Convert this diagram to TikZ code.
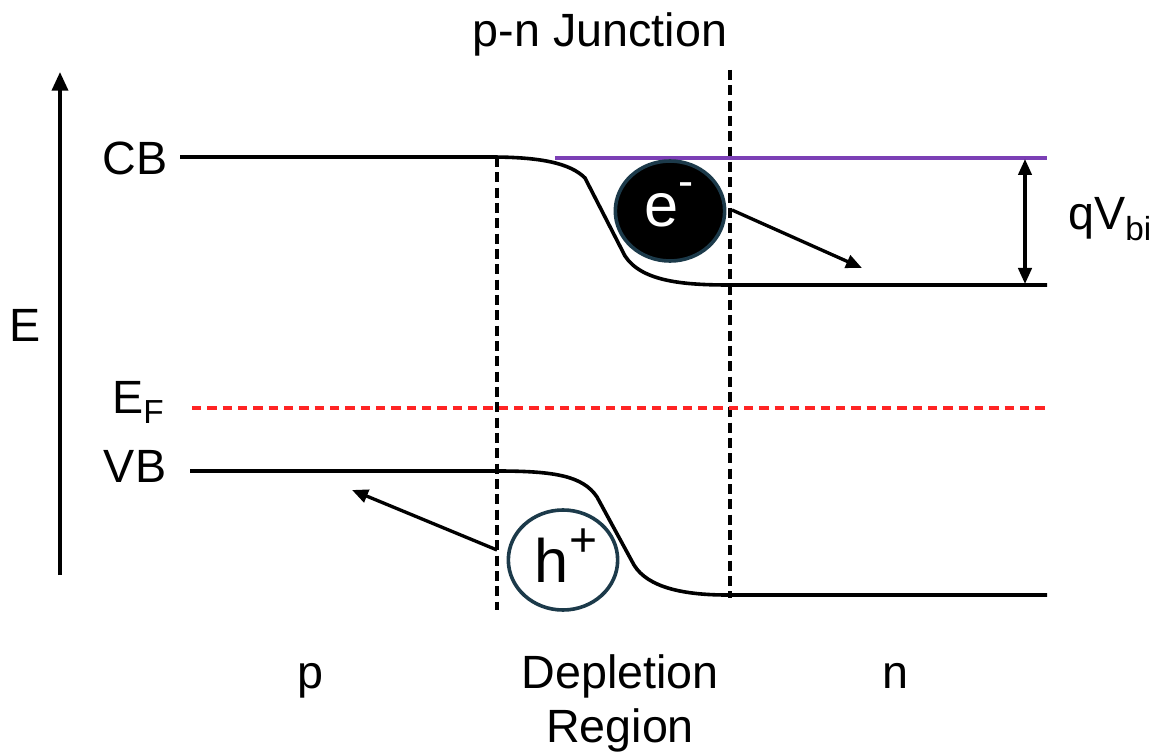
\documentclass[tikz,border=0pt]{standalone}
\usepackage{fontspec}
\setmainfont{Liberation Sans}
\usetikzlibrary{arrows.meta,shapes.geometric}
\definecolor{bandpurple}{HTML}{7B3FB5}
\definecolor{circedge}{HTML}{1C3A4A}
\definecolor{fermired}{HTML}{FF2424}
\begin{document}
\begin{tikzpicture}[x=0.75pt,y=-0.75pt,
  lbl/.style={font=\fontsize{35}{40.5}\selectfont, inner sep=0pt, anchor=base},
  big/.style={font=\fontsize{46}{50}\selectfont, inner sep=0pt, anchor=base},
  band/.style={line width=2.7pt},
  divider/.style={line width=2.4pt, dash pattern=on 7.5pt off 4pt},
  fermi/.style={line width=2.6pt, fermired, dash pattern=on 7pt off 4.5pt},
  arr/.style={line width=2.5pt, -{Triangle[length=12pt,width=10pt]}},
  carrier/.style={ellipse, minimum width=82pt, minimum height=75pt, inner sep=0pt, line width=2.7pt, draw=circedge}
]
\useasboundingbox (0,0) rectangle (1160,755);
% labels
\node[lbl] (title) at (600,47) {p-n Junction};
\node[lbl] (Elbl) at (25,342) {E};
\node[lbl] (CB) at (135,175) {CB};
\node[lbl] (EF) at (138,413) {E\raisebox{-0.22em}{\fontsize{25}{25}\selectfont F}};
\node[lbl] (VB) at (135,482) {VB};
\node[lbl] (plbl) at (310,688) {p};
\node[lbl] (dep) at (620,688) {Depletion};
\node[lbl] (reg) at (620,742) {Region};
\node[lbl] (nlbl) at (895,688) {n};
\node[lbl, anchor=base west] (qv) at (1068,230) {qV\raisebox{-0.22em}{\fontsize{25}{25}\selectfont bi}};
% energy axis
\coordinate (ax0) at (60,575);
\coordinate (ax1) at (60,72);
\draw[line width=2.7pt, -{Triangle[length=14pt,width=12pt]}] (ax0) -- (ax1);
% dividers
\coordinate (dl0) at (497,157);
\coordinate (dl1) at (497,610);
\coordinate (dr0) at (730,70);
\coordinate (dr1) at (730,598);
\draw[divider] (dl0) -- (dl1);
\draw[divider] (dr0) -- (dr1);
% conduction band
\coordinate (cb0) at (180,157);
\coordinate (cb1) at (730,285);
\coordinate (cb2) at (1047,285);
\draw[band] (cb0) -- (490,157) .. controls (540,157) and (570,163) .. (585,178)
  -- (625,256) .. controls (642,282) and (685,285) .. (cb1) -- (cb2);
% purple reference
\coordinate (pu0) at (555,158);
\coordinate (pu1) at (1047,158);
\draw[line width=2.7pt, bandpurple] (pu0) -- (pu1);
% valence band
\coordinate (vb0) at (190,471);
\coordinate (vb1) at (727,595);
\coordinate (vb2) at (1047,595);
\draw[band] (vb0) -- (497,471) .. controls (555,471) and (583,476) .. (597,497)
  -- (634,565) .. controls (648,588) and (685,595) .. (vb1) -- (vb2);
% Fermi level
\coordinate (ef0) at (192,408);
\coordinate (ef1) at (1047,408);
\draw[fermi] (ef0) -- (ef1);
% qVbi
\coordinate (q0) at (1025,159);
\coordinate (q1) at (1025,284);
\draw[line width=2.5pt, {Triangle[length=12pt,width=10pt]}-{Triangle[length=12pt,width=10pt]}] (q0) -- (q1);
% electron
\node[carrier, fill=black] (eC) at (670,211) {};
\node[big, text=white] (etxt) at (669,227) {e\raisebox{0.5em}{\fontsize{34}{34}\selectfont -}};
\coordinate (ea0) at (732,210);
\coordinate (ea1) at (862,268);
\draw[arr] (ea0) -- (ea1);
% hole
\node[carrier, fill=white] (hC) at (563,560) {};
\node[big] (htxt) at (566,582) {h\raisebox{0.42em}{\fontsize{36}{36}\selectfont +}};
\coordinate (ha0) at (497,550);
\coordinate (ha1) at (352,490);
\draw[arr] (ha0) -- (ha1);
\end{tikzpicture}
\end{document}
